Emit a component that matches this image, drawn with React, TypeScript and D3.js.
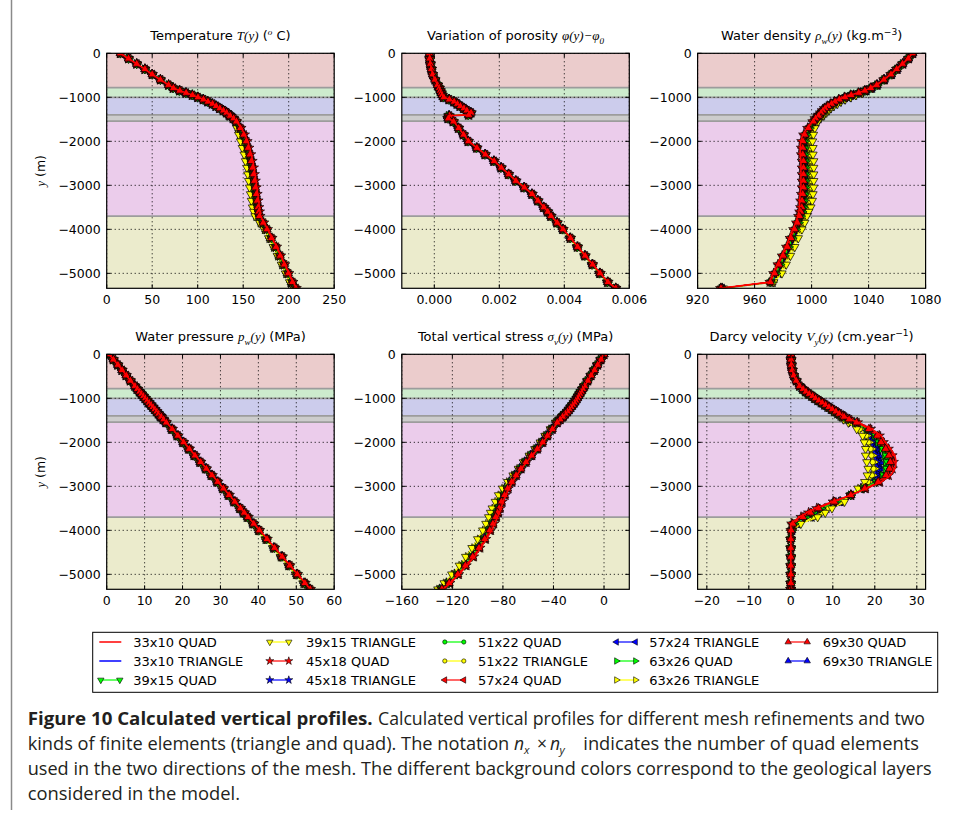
import React from 'react';
import * as d3 from 'd3';

// ---------------- DATA ----------------
const DEPTHS = [0, -120, -240, -360, -480, -600, -720, -790,
  -850, -900, -950, -1000, -1050, -1100, -1150, -1200, -1250, -1300, -1350, -1400, -1420, -1480, -1550,
  -1700, -1850, -2000, -2150, -2300, -2450, -2600, -2750, -2900, -3050, -3200, -3350, -3500, -3600, -3700,
  -3850, -4000, -4200, -4400, -4600, -4800, -5000, -5200, -5340];

const TEMPERATURE = [15, 24, 33, 42, 50, 59, 68, 73,
  80, 87, 94, 100, 106, 111, 116, 120, 124, 128, 131.5, 134.5, 135.5, 139, 142,
  145.5, 148.5, 151, 153, 155, 156.5, 158, 159, 160, 161, 162, 163, 164, 165, 166,
  170.5, 175, 180, 185, 189.5, 194, 198.5, 203, 207];
const TEMPERATURE_SPREAD = [0, 0, 0, 0, 0, 0, 0, 0.5,
  0.5, 0.5, 0.5, 0.5, 0.5, 0.5, 0.5, 0.5, 0.5, 0.5, 0.5, 0.5, 0.5, 0.8, 1,
  2.5, 3.5, 4, 4, 4, 4, 4, 4, 4, 4, 4, 4, 3.8, 3.5, 3,
  2.5, 2, 2, 2, 2, 2, 2, 2, 1.5];

const POROSITY = [-0.00015, -0.00014, -0.00012, -0.00009, -0.00005, 0.00002, 0.0001, 0.00015,
  0.00018, 0.00021, 0.00024, 0.00028, 0.00045, 0.0006, 0.0007, 0.00079, 0.0009, 0.00099, 0.00112, 0.00105, 0.00045, 0.00042, 0.00058,
  0.00074, 0.00089, 0.00104, 0.0013, 0.00156, 0.00183, 0.00205, 0.00228, 0.0025, 0.00276, 0.003, 0.00318, 0.00336, 0.00348, 0.00358,
  0.00377, 0.00395, 0.00418, 0.0044, 0.00463, 0.00486, 0.00509, 0.00533, 0.00558];
const POROSITY_SPREAD = [0, 0, 0, 0, 0, 0, 0, 0.00001,
  0.00001, 0.00001, 0.00001, 0.00002, 0.00002, 0.00002, 0.00002, 0.00002, 0.00002, 0.00002, 0.00002, 0.00002, 0.00002, 0.00002, 0.00002,
  0.00002, 0.00002, 0.00002, 0.00002, 0.00002, 0.00002, 0.00002, 0.00002, 0.00002, 0.00002, 0.00002, 0.00002, 0.00002, 0.00002, 0.00002,
  0.00002, 0.00002, 0.00002, 0.00002, 0.00002, 0.00002, 0.00002, 0.00002, 0.00001];

const DENSITY = [1071, 1068, 1064, 1060, 1056, 1051, 1046, 1042,
  1038, 1034, 1029, 1025, 1021, 1018, 1015.5, 1013, 1011, 1009.5, 1008, 1006.5, 1006, 1004, 1002.5,
  999.5, 997.5, 996.5, 996.5, 996.5, 997, 997, 997, 997, 997, 996.5, 996, 995.5, 994.5, 993.5,
  992, 990, 987.5, 985, 982, 979, 976, 972, 937];
const DENSITY_SPREAD = [-0.3, -0.3, -0.3, -0.5, -0.5, -0.5, -0.5, -0.8,
  -1, -1.5, -2, -2.5, -2.5, -2.5, -2.5, -2.5, -2.5, -2.5, -2.2, -2, -2, -2, -2,
  -2.8, -3.8, -4.2, -4.5, -4.5, -4.5, -4.5, -4.5, -4.5, -4.5, -4.5, -4.5, -4, -3.5, -3.2,
  -3.2, -3.2, -3.2, -3.2, -3.2, -3.2, -3.2, -1.5, -1];

const PRESSURE = [0.6, 1.7, 2.9, 4.0, 5.1, 6.2, 7.4, 8.0,
  8.6, 9.1, 9.6, 10.1, 10.6, 11.1, 11.6, 12.1, 12.6, 13.1, 13.6, 14.1, 14.3, 14.9, 15.6,
  17.1, 18.6, 20.1, 21.6, 23.1, 24.6, 26.1, 27.6, 29.1, 30.6, 32.1, 33.6, 35.1, 36.1, 37.1,
  38.6, 40.1, 42.1, 44.1, 46.1, 48.1, 50.1, 52.1, 53.5];
const PRESSURE_SPREAD = [0, 0.1, 0.1, 0.1, 0.1, 0.1, 0.1, 0.2,
  0.2, 0.2, 0.2, 0.2, 0.2, 0.2, 0.2, 0.2, 0.2, 0.2, 0.2, 0.2, 0.2, 0.2, 0.2,
  0.3, 0.3, 0.3, 0.3, 0.3, 0.3, 0.3, 0.3, 0.3, 0.3, 0.3, 0.3, 0.3, 0.3, 0.3,
  0.3, 0.3, 0.3, 0.3, 0.3, 0.3, 0.3, 0.3, 0.3];

const STRESS = [0, -2.6, -5.2, -7.8, -10.4, -13, -15.5, -17,
  -18.3, -19.3, -20.4, -21.4, -22.5, -23.7, -25, -26.3, -27.6, -29, -30.7, -32.3, -33, -35, -37.5,
  -41.5, -45.5, -49.3, -53.5, -58, -62.5, -66.5, -70.5, -74.3, -77.8, -80.5, -83, -85, -86.3, -87.8,
  -90, -92.5, -96.5, -101, -106, -111.5, -117.5, -124, -129.5];
const STRESS_SPREAD = [0, 0.3, 0.3, 0.3, 0.3, 0.3, 0.3, 0.3,
  0.3, 0.3, 0.3, 0.3, 0.3, 0.3, 0.3, 0.3, 0.3, 0.3, 0.3, 0.3, 0.3, 0.5, 0.8,
  1, 1.2, 1.2, 1.2, 1.2, 1.2, 1.2, 1.5, 2, 2.5, 3, 3, 3.5, 3.5, 3.5,
  3.5, 3.5, 3.5, 3.5, 3.5, 3, 3, 2.5, 2];

const DARCY = [0, 0.05, 0.15, 0.35, 0.7, 1.3, 2.1, 2.8,
  3.5, 4.2, 5, 5.7, 6.5, 7.3, 8.1, 8.9, 9.7, 10.5, 11.3, 12.1, 12.4, 13.4, 14.9,
  17.5, 19.3, 20, 20.8, 21.3, 21.6, 21.6, 21, 19.6, 17, 14.3, 11.3, 7.8, 6, 4.2,
  1.2, 0.2, 0, 0, 0, 0, 0, 0, 0];
const DARCY_SPREAD = [0, 0, 0, 0, 0, 0, 0, 0.2,
  0.2, 0.3, 0.3, 0.3, 0.3, 0.3, 0.3, 0.3, 0.3, 0.4, 0.4, 0.5, 0.5, 0.8, 1.2,
  1.8, 2.2, 2.5, 3, 3.5, 3.5, 3.2, 2.8, 2, 1, 0, -1.5, -2, -2.2, -2.2,
  -1.2, -0.2, 0, 0, 0, 0, 0, 0, 0];

const SERIES_NAMES = ['33x10 QUAD', '33x10 TRIANGLE', '39x15 QUAD', '39x15 TRIANGLE', '45x18 QUAD', '45x18 TRIANGLE',
  '51x22 QUAD', '51x22 TRIANGLE', '57x24 QUAD', '57x24 TRIANGLE', '63x26 QUAD', '63x26 TRIANGLE', '69x30 QUAD', '69x30 TRIANGLE'];
const SERIES_COLORS = ['#ff0000', '#0000ff', '#00ff00', '#ffff00', '#ff0000', '#0000ff',
  '#00ff00', '#ffff00', '#ff0000', '#0000ff', '#00ff00', '#ffff00', '#ff0000', '#0000ff'];
const SERIES_MARKERS = ['', '', 'v', 'v', '*', '*', 'o', 'o', '<', '<', '>', '>', '^', '^'];
const SERIES_SHIFT = [1.0, -0.4, 0.4, -1.0, 0.8, -0.3, 0.5, -0.6, 0.7, -0.2, 0.3, -0.5, 0.6, -0.1];
const DRAW_ORDER = [13, 9, 5, 1, 11, 7, 3, 10, 6, 2, 8, 4, 12, 0];

const LAYER_TOPS = [0, -780, -1000, -1400, -1540, -3700];
const LAYER_BOTTOMS = [-780, -1000, -1400, -1540, -3700, -5340];
const LAYER_COLORS = ['#ebcccc', '#cdebcd', '#ccccec', '#cccccc', '#ebcceb', '#ebebcc'];

const Y_TICKS = [0, -1000, -2000, -3000, -4000, -5000];
const Y_DOMAIN = [-5340, 0];

const TEMP_TICKS = [0, 50, 100, 150, 200, 250];
const POROSITY_TICKS = [0, 0.002, 0.004, 0.006];
const DENSITY_TICKS = [920, 960, 1000, 1040, 1080];
const PRESSURE_TICKS = [0, 10, 20, 30, 40, 50, 60];
const STRESS_TICKS = [-160, -120, -80, -40, 0];
const DARCY_TICKS = [-20, -10, 0, 10, 20, 30];

// ---------------- LAYOUT ----------------
const W = 957, H = 814;
const COLS = [[106.7, 334.2], [401.8, 629.3], [697.6, 925.6]];
const ROWS = [[53.3, 288.3], [354.3, 589.3]];
const SANS = 'DejaVu Sans, Verdana, sans-serif';
const SERIF = 'Liberation Serif, DejaVu Serif, serif';

type Seg = { t: string; k?: 'sans' | 'math' | 'sub' | 'sup' | 'msup' };

const fmtMinus = (v: number, digits = 0) => {
  const s = digits ? Math.abs(v).toFixed(digits) : String(Math.abs(v));
  return (v < 0 ? '\u2212' : '') + s;
};

const PANELS = [
  { title: [{ t: 'Temperature ' }, { t: 'T(y)', k: 'math' }, { t: ' (' }, { t: 'o', k: 'msup' }, { t: ' C)' }] as Seg[],
    base: TEMPERATURE, spread: TEMPERATURE_SPREAD, domain: [0, 250], ticks: TEMP_TICKS, fmt: (v: number) => fmtMinus(v), col: 0, row: 0 },
  { title: [{ t: 'Variation of porosity ' }, { t: '\u03c6(y)\u2212\u03c6', k: 'math' }, { t: '0', k: 'sub' }] as Seg[],
    base: POROSITY, spread: POROSITY_SPREAD, domain: [-0.001, 0.006], ticks: POROSITY_TICKS, fmt: (v: number) => fmtMinus(v, 3), col: 1, row: 0 },
  { title: [{ t: 'Water density ' }, { t: '\u03c1', k: 'math' }, { t: 'w', k: 'sub' }, { t: '(y)', k: 'math' }, { t: ' (kg.m' }, { t: '\u22123', k: 'sup' }, { t: ')' }] as Seg[],
    base: DENSITY, spread: DENSITY_SPREAD, domain: [920, 1080], ticks: DENSITY_TICKS, fmt: (v: number) => fmtMinus(v), col: 2, row: 0 },
  { title: [{ t: 'Water pressure ' }, { t: 'p', k: 'math' }, { t: 'w', k: 'sub' }, { t: '(y)', k: 'math' }, { t: ' (MPa)' }] as Seg[],
    base: PRESSURE, spread: PRESSURE_SPREAD, domain: [0, 60], ticks: PRESSURE_TICKS, fmt: (v: number) => fmtMinus(v), col: 0, row: 1 },
  { title: [{ t: 'Total vertical stress ' }, { t: '\u03c3', k: 'math' }, { t: 'v', k: 'sub' }, { t: '(y)', k: 'math' }, { t: ' (MPa)' }] as Seg[],
    base: STRESS, spread: STRESS_SPREAD, domain: [-160, 20], ticks: STRESS_TICKS, fmt: (v: number) => fmtMinus(v), col: 1, row: 1 },
  { title: [{ t: 'Darcy velocity ' }, { t: 'V', k: 'math' }, { t: 'y', k: 'sub' }, { t: '(y)', k: 'math' }, { t: ' (cm.year' }, { t: '\u22121', k: 'sup' }, { t: ')' }] as Seg[],
    base: DARCY, spread: DARCY_SPREAD, domain: [-22.2, 32.1], ticks: DARCY_TICKS, fmt: (v: number) => fmtMinus(v), col: 2, row: 1 },
];

function RichText({ x, y, segs, size, anchor = 'middle' }: { x: number; y: number; segs: Seg[]; size: number; anchor?: string }) {
  let cur = 0;
  const parts = segs.map((s, i) => {
    const k = s.k || 'sans';
    let target = 0;
    if (k === 'sub') target = size * 0.3;
    if (k === 'sup' || k === 'msup') target = -size * 0.4;
    const dy = target - cur;
    cur = target;
    const small = k === 'sub' || k === 'sup' || k === 'msup';
    const isMath = k === 'math' || k === 'msup' || k === 'sub';
    return (
      <tspan key={i} dy={dy || undefined} fontSize={small ? size * 0.7 : size}
        fontFamily={isMath ? SERIF : SANS} fontStyle={isMath ? 'italic' : 'normal'}>{s.t}</tspan>
    );
  });
  return <text x={x} y={y} textAnchor={anchor} fill="#000">{parts}</text>;
}

function markerPath(m: string, size: number): string {
  if (m === 'o') return d3.symbol().type(d3.symbolCircle).size(size * 0.8)() as string;
  if (m === '*') return d3.symbol().type(d3.symbolStar).size(size * 1.1)() as string;
  return d3.symbol().type(d3.symbolTriangle).size(size)() as string;
}
const ROT: Record<string, number> = { v: 180, '^': 0, '<': -90, '>': 90, o: 0, '*': 0 };

function Marker({ m, x, y, fill, size, sw = 0.7 }: { m: string; x: number; y: number; fill: string; size: number; sw?: number }) {
  return <path d={markerPath(m, size)} transform={`translate(${x},${y}) rotate(${ROT[m] || 0})`}
    fill={fill} stroke="#000" strokeWidth={sw} />;
}

function Panel({ p, idx }: { p: typeof PANELS[number]; idx: number }) {
  const [x0, x1] = COLS[p.col];
  const [y0, y1] = ROWS[p.row];
  const xs = d3.scaleLinear().domain(p.domain).range([x0, x1]);
  const ys = d3.scaleLinear().domain(Y_DOMAIN).range([y1, y0]);
  const clipId = `clip${idx}`;
  const line = d3.line<number>().x(v => xs(v)).y((_, i) => ys(DEPTHS[i]));
  const boundaries = LAYER_TOPS.slice(1);
  return (
    <g>
      <defs>
        <clipPath id={clipId}><rect x={x0} y={y0} width={x1 - x0} height={y1 - y0} /></clipPath>
      </defs>
      <g clipPath={`url(#${clipId})`}>
        {LAYER_TOPS.map((t, i) => (
          <rect key={i} x={x0} y={ys(t)} width={x1 - x0} height={ys(LAYER_BOTTOMS[i]) - ys(t)} fill={LAYER_COLORS[i]} />
        ))}
        {boundaries.map((b, i) => (
          <line key={i} x1={x0} x2={x1} y1={ys(b)} y2={ys(b)} stroke="#9c9c9c" strokeWidth={1.8} />
        ))}
        {p.ticks.map((t, i) => (
          <line key={'gx' + i} x1={xs(t)} x2={xs(t)} y1={y0} y2={y1} stroke="#000" strokeWidth={1} strokeDasharray="1,3" />
        ))}
        {Y_TICKS.map((t, i) => (
          <line key={'gy' + i} x1={x0} x2={x1} y1={ys(t)} y2={ys(t)} stroke="#000" strokeWidth={1} strokeDasharray="1,3" />
        ))}
        {DRAW_ORDER.map(s => {
          const vals = p.base.map((b, i) => b + SERIES_SHIFT[s] * p.spread[i]);
          const m = SERIES_MARKERS[s];
          return (
            <g key={s}>
              <path d={line(vals) as string} fill="none" stroke={SERIES_COLORS[s]} strokeWidth={m ? 1.1 : 1.5} />
              {m && vals.map((v, i) => (
                <Marker key={i} m={m} x={xs(v)} y={ys(DEPTHS[i])} fill={SERIES_COLORS[s]} size={30} />
              ))}
            </g>
          );
        })}
      </g>
      <rect x={x0} y={y0} width={x1 - x0} height={y1 - y0} fill="none" stroke="#000" strokeWidth={1.2} />
      {p.ticks.map((t, i) => (
        <g key={'tx' + i}>
          <line x1={xs(t)} x2={xs(t)} y1={y1} y2={y1 - 4} stroke="#000" />
          <line x1={xs(t)} x2={xs(t)} y1={y0} y2={y0 + 4} stroke="#000" />
          <text x={xs(t)} y={y1 + 16} textAnchor="middle" fontFamily={SANS} fontSize={12.5} fill="#000">{p.fmt(t)}</text>
        </g>
      ))}
      {Y_TICKS.map((t, i) => (
        <g key={'ty' + i}>
          <line x1={x0} x2={x0 + 4} y1={ys(t)} y2={ys(t)} stroke="#000" />
          <line x1={x1} x2={x1 - 4} y1={ys(t)} y2={ys(t)} stroke="#000" />
          <text x={x0 - 6} y={ys(t) + 4.5} textAnchor="end" fontFamily={SANS} fontSize={12.5} fill="#000">{fmtMinus(t)}</text>
        </g>
      ))}
      <RichText x={(x0 + x1) / 2} y={y0 - 13} segs={p.title} size={13} />
      {p.col === 0 && (
        <text transform={`translate(45,${(y0 + y1) / 2}) rotate(-90)`} textAnchor="middle" fontSize={12.5} fill="#000">
          <tspan fontFamily={SERIF} fontStyle="italic">y</tspan>
          <tspan fontFamily={SANS}> (m)</tspan>
        </text>
      )}
    </g>
  );
}

const LEG_ROWS = [642, 661, 680];
const LEG_HANDLE_X = [99.3, 268.3, 443.3, 615, 786.7];
const LEG_TEXT_X = [133.3, 306, 478, 649.3, 822.7];

function Legend() {
  return (
    <g>
      <rect x={92.7} y={632.3} width={845} height={60} fill="#fff" stroke="#000" strokeWidth={1} />
      {SERIES_NAMES.map((name, s) => {
        const col = Math.floor(s / 3), row = s % 3;
        const hx = LEG_HANDLE_X[col], y = LEG_ROWS[row];
        const m = SERIES_MARKERS[s];
        return (
          <g key={s}>
            <line x1={hx} x2={hx + 22} y1={y} y2={y} stroke={SERIES_COLORS[s]} strokeWidth={m ? 1.2 : 1.5} />
            {m && <Marker m={m} x={hx + 1.5} y={y} fill={SERIES_COLORS[s]} size={18} sw={0.6} />}
            {m && <Marker m={m} x={hx + 20.5} y={y} fill={SERIES_COLORS[s]} size={18} sw={0.6} />}
            <text x={LEG_TEXT_X[col]} y={y + 4.6} fontFamily={SANS} fontSize={13} fill="#000">{name}</text>
          </g>
        );
      })}
    </g>
  );
}

const CAP_FONT = 'Open Sans, Lato, Noto Sans, sans-serif';
const CAP_COLOR = '#231f20';

function Caption() {
  const fs = 17.5;
  const common = { fontFamily: CAP_FONT, fontSize: fs, fill: CAP_COLOR, lengthAdjust: 'spacingAndGlyphs' as any };
  return (
    <g>
      <text x={27.7} y={725} fontWeight="bold" textLength={345} {...common}>Figure 10 Calculated vertical profiles.</text>
      <text x={378} y={725} textLength={547} {...common}>Calculated vertical profiles for different mesh refinements and two</text>
      <text x={27.7} y={750} textLength={481.6} {...common}>kinds of finite elements (triangle and quad). The notation</text>
      <text y={750} fontFamily={CAP_FONT} fontSize={fs} fill={CAP_COLOR}>
        <tspan x={514} y={750} fontStyle="italic">n</tspan>
        <tspan x={524} y={754} fontStyle="italic" fontSize={fs * 0.65}>x</tspan>
        <tspan x={537} y={750}>×</tspan>
        <tspan x={550} y={750} fontStyle="italic">n</tspan>
        <tspan x={559.5} y={754} fontStyle="italic" fontSize={fs * 0.65}>y</tspan>
        <tspan x={583.3} y={750} textLength={335.7} lengthAdjust="spacingAndGlyphs">indicates the number of quad elements</tspan>
      </text>
      <text x={27.7} y={775} textLength={904} {...common}>used in the two directions of the mesh. The different background colors correspond to the geological layers</text>
      <text x={27.7} y={800} textLength={212.3} {...common}>considered in the model.</text>
    </g>
  );
}

export default function App() {
  return (
    <svg width={W} height={H} viewBox={`0 0 ${W} ${H}`} style={{ position: 'absolute', left: 0, top: 0, background: '#fff' }}>
      <rect x={0} y={0} width={W} height={H} fill="#fff" />
      <line x1={11.5} x2={11.5} y1={0} y2={810} stroke="#8a8a8a" strokeWidth={1.5} />
      {PANELS.map((p, i) => <Panel key={i} p={p} idx={i} />)}
      <Legend />
      <Caption />
    </svg>
  );
}
